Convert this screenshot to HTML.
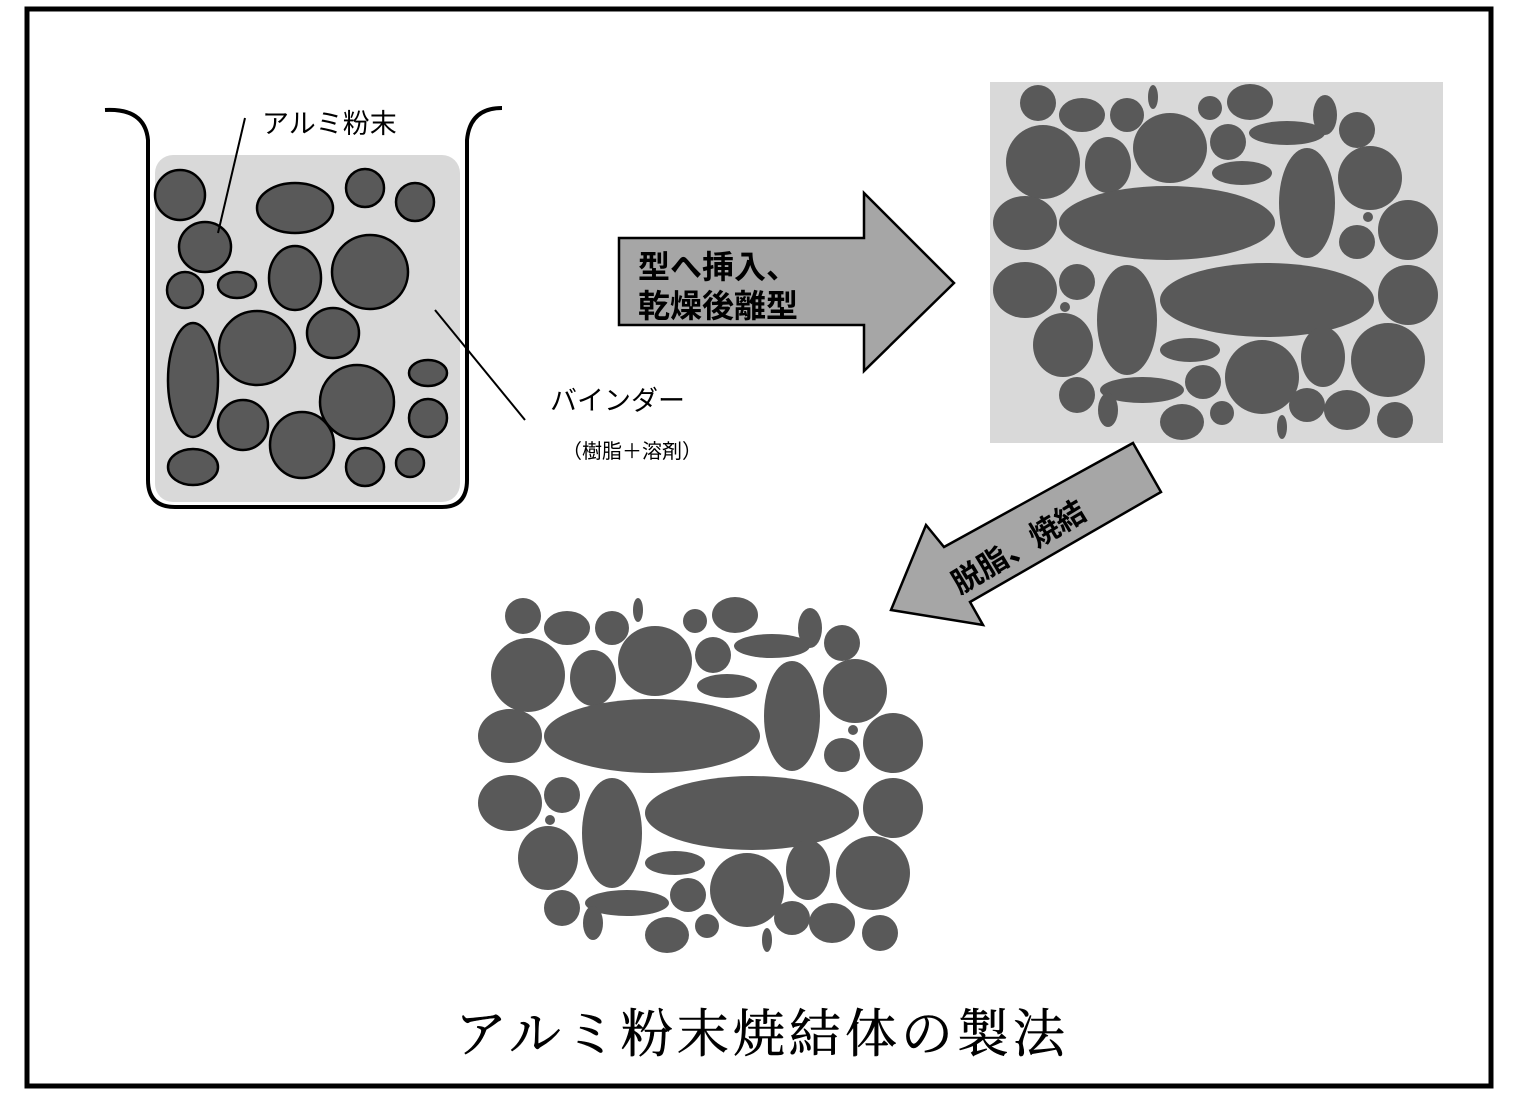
<!DOCTYPE html>
<html><head><meta charset="utf-8"><style>
html,body{margin:0;padding:0;background:#fff;}
svg{display:block;}
.jp{font-family:"Liberation Sans","Noto Sans CJK JP",sans-serif;}
</style></head><body>
<svg width="1520" height="1100" viewBox="0 0 1520 1100" xmlns="http://www.w3.org/2000/svg">
<rect x="27" y="9" width="1464" height="1077" fill="#fff" stroke="#000" stroke-width="5"/>
<rect x="155" y="155" width="305" height="347" rx="18" fill="#d9d9d9"/>
<path d="M105,110 Q145,108 148,140 L148,480 Q148,507 175,507 L442,507 Q467,507 467,480 L467,140 Q470,108 502,108" fill="none" stroke="#000" stroke-width="4"/>
<g fill="#595959" stroke="#000" stroke-width="2.5">
<ellipse cx="180" cy="195" rx="25" ry="25"/>
<ellipse cx="295" cy="208" rx="38" ry="25"/>
<ellipse cx="365" cy="188" rx="19" ry="19"/>
<ellipse cx="415" cy="202" rx="19" ry="19"/>
<ellipse cx="205" cy="247" rx="26" ry="25"/>
<ellipse cx="185" cy="290" rx="18" ry="18"/>
<ellipse cx="237" cy="285" rx="19" ry="13"/>
<ellipse cx="295" cy="278" rx="26" ry="32"/>
<ellipse cx="370" cy="272" rx="38" ry="37"/>
<ellipse cx="193" cy="380" rx="25" ry="57"/>
<ellipse cx="257" cy="348" rx="38" ry="37"/>
<ellipse cx="333" cy="333" rx="26" ry="25"/>
<ellipse cx="428" cy="373" rx="19" ry="13"/>
<ellipse cx="357" cy="402" rx="37" ry="37"/>
<ellipse cx="243" cy="425" rx="25" ry="25"/>
<ellipse cx="428" cy="418" rx="19" ry="19"/>
<ellipse cx="302" cy="445" rx="32" ry="33"/>
<ellipse cx="193" cy="467" rx="25" ry="18"/>
<ellipse cx="365" cy="467" rx="19" ry="19"/>
<ellipse cx="410" cy="463" rx="14" ry="14"/>
</g>
<line x1="245" y1="118" x2="218" y2="233" stroke="#000" stroke-width="2"/>
<line x1="435" y1="310" x2="525" y2="420" stroke="#000" stroke-width="2"/>
<text x="262" y="133" font-size="27" class="jp" fill="#000">アルミ粉末</text>
<text x="550" y="410" font-size="27" class="jp" fill="#000">バインダー</text>
<text x="562" y="458" font-size="20" class="jp" fill="#000">（樹脂＋溶剤）</text>
<polygon points="619,238 864,238 864,193 954,283 864,371 864,325 619,325" fill="#a6a6a6" stroke="#000" stroke-width="2.5"/>
<text x="638" y="278" font-size="32" class="jp" fill="#000" font-weight="bold">型へ挿入、</text>
<text x="638" y="317" font-size="32" class="jp" fill="#000" font-weight="bold">乾燥後離型</text>
<rect x="990" y="82" width="453" height="361" fill="#d9d9d9"/>
<g id="parts" fill="#595959">
<ellipse cx="1038" cy="103" rx="18" ry="18"/>
<ellipse cx="1082" cy="115" rx="23" ry="17"/>
<ellipse cx="1127" cy="115" rx="17" ry="17"/>
<ellipse cx="1153" cy="97" rx="5" ry="12"/>
<ellipse cx="1170" cy="148" rx="37" ry="35"/>
<ellipse cx="1210" cy="108" rx="12" ry="12"/>
<ellipse cx="1250" cy="102" rx="23" ry="18"/>
<ellipse cx="1228" cy="142" rx="18" ry="18"/>
<ellipse cx="1287" cy="133" rx="38" ry="12"/>
<ellipse cx="1325" cy="115" rx="12" ry="20"/>
<ellipse cx="1357" cy="130" rx="18" ry="18"/>
<ellipse cx="1043" cy="162" rx="37" ry="37"/>
<ellipse cx="1108" cy="165" rx="23" ry="28"/>
<ellipse cx="1242" cy="173" rx="30" ry="12"/>
<ellipse cx="1307" cy="203" rx="28" ry="55"/>
<ellipse cx="1370" cy="178" rx="32" ry="32"/>
<ellipse cx="1167" cy="223" rx="108" ry="37"/>
<ellipse cx="1025" cy="223" rx="32" ry="27"/>
<ellipse cx="1368" cy="217" rx="5" ry="5"/>
<ellipse cx="1408" cy="230" rx="30" ry="30"/>
<ellipse cx="1357" cy="242" rx="18" ry="17"/>
<ellipse cx="1025" cy="290" rx="32" ry="28"/>
<ellipse cx="1077" cy="282" rx="18" ry="18"/>
<ellipse cx="1127" cy="320" rx="30" ry="55"/>
<ellipse cx="1267" cy="300" rx="107" ry="37"/>
<ellipse cx="1408" cy="295" rx="30" ry="30"/>
<ellipse cx="1065" cy="307" rx="5" ry="5"/>
<ellipse cx="1063" cy="345" rx="30" ry="32"/>
<ellipse cx="1190" cy="350" rx="30" ry="12"/>
<ellipse cx="1262" cy="377" rx="37" ry="37"/>
<ellipse cx="1323" cy="357" rx="22" ry="30"/>
<ellipse cx="1388" cy="360" rx="37" ry="37"/>
<ellipse cx="1077" cy="395" rx="18" ry="18"/>
<ellipse cx="1142" cy="390" rx="42" ry="13"/>
<ellipse cx="1108" cy="410" rx="10" ry="17"/>
<ellipse cx="1203" cy="382" rx="18" ry="17"/>
<ellipse cx="1182" cy="422" rx="22" ry="18"/>
<ellipse cx="1222" cy="413" rx="12" ry="12"/>
<ellipse cx="1282" cy="427" rx="5" ry="12"/>
<ellipse cx="1307" cy="405" rx="18" ry="17"/>
<ellipse cx="1347" cy="410" rx="23" ry="20"/>
<ellipse cx="1395" cy="420" rx="18" ry="18"/>
</g>
<polygon points="1133,443 1161,492 970,602 983,625 891,610 926,525 944,547" fill="#a6a6a6" stroke="#000" stroke-width="2.5"/>
<text transform="translate(1024,556) rotate(-31)" text-anchor="middle" font-size="30" class="jp" fill="#000" font-weight="bold">脱脂、焼結</text>
<use href="#parts" transform="translate(-515,513)"/>
<text x="455" y="1052" font-size="52" letter-spacing="4" font-family="'Liberation Serif','Noto Serif CJK SC',serif" fill="#000" stroke="#000" stroke-width="0.6">アルミ粉末焼結体の製法</text>
</svg>
</body></html>
